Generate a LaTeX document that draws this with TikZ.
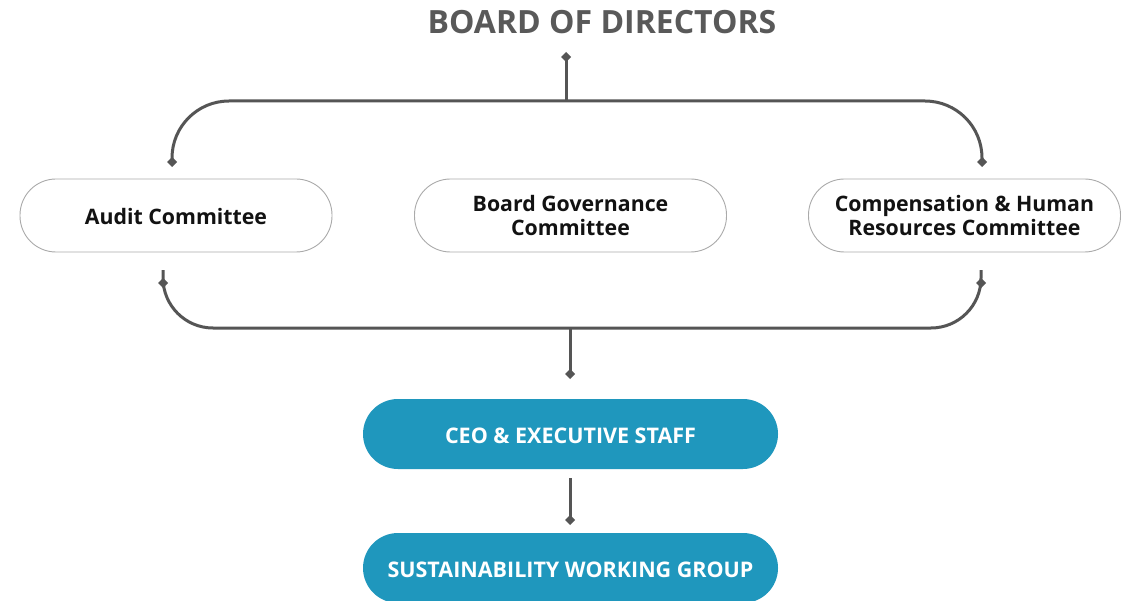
\documentclass[tikz,border=0pt]{standalone}
\usepackage{fontspec}
\setmainfont{Open Sans}
\usetikzlibrary{arrows.meta}
\definecolor{teal}{HTML}{1F97BD}
\definecolor{linegray}{HTML}{555555}
\definecolor{titlegray}{HTML}{595959}
\definecolor{boxborder}{HTML}{AAAAAA}
\newcommand{\twoline}[2]{\begin{tabular}[t]{@{}c@{}}#1\\#2\end{tabular}}
\tikzset{
  committee/.style={draw=boxborder, line width=0.9pt, fill=white, rounded corners=36pt,
    minimum width=312pt, minimum height=73pt, text=black!93,
    font=\fontsize{21.3}{24}\selectfont\bfseries, inner sep=0pt,
    text height=19pt, text depth=0pt},
  twolines/.style={text depth=26pt},
  execbox/.style={fill=teal, rounded corners=35pt, minimum width=415pt, minimum height=70pt,
    text=white, font=\fontsize{21.5}{24}\selectfont\bfseries, inner sep=0pt,
    text height=18.5pt, text depth=0pt},
  conn/.style={draw=linegray, line width=3pt, -{Turned Square[length=10pt,width=10pt]}},
  bothtips/.style={{Turned Square[length=10pt,width=10pt]}-{Turned Square[length=10pt,width=10pt]}},
  titlestyle/.style={text=titlegray, font=\fontsize{32}{36}\selectfont\bfseries, inner sep=0pt},
}
\begin{document}
\begin{tikzpicture}[x=1pt, y=-1pt]
\useasboundingbox (0,0) rectangle (1131,601);
\fill[white] (0,0) rectangle (1131,601);
% title
\node[titlestyle] (board) at (602,22) {BOARD OF DIRECTORS};
% committees
\node[committee] (audit) at (176,215.5) {Audit Committee};
\node[committee, twolines] (gov) at (570.5,215.5) {\twoline{Board Governance}{Committee}};
\node[committee, twolines] (comp) at (964.5,215.5) {\twoline{Compensation \& Human}{Resources Committee}};
% executive boxes
\node[execbox] (ceo) at (570.5,434) {CEO \& EXECUTIVE STAFF};
\node[execbox] (swg) at (570.5,568) {SUSTAINABILITY WORKING GROUP};
% coordinates of connector ends
\coordinate (topjoin) at (566,101);
\coordinate (boardtip) at (566,52);
\coordinate (audittop) at (172,157);
\coordinate (comptop) at (982,157);
\coordinate (auditbot) at (163,278);
\coordinate (compbot) at (981,278);
\coordinate (botjoin) at (570,328);
\coordinate (ceotip) at (570,379);
\coordinate (ceobot) at (570,478);
\coordinate (swgtip) at (570,525);
% top bracket
\draw[conn] (topjoin) -- (boardtip);
\draw[conn, bothtips, rounded corners=57pt]
  (audittop) |- (topjoin) -| (comptop);
% bottom bracket
\draw[conn, bothtips, rounded corners=50pt]
  (auditbot) |- (botjoin) -| (compbot);
\draw[conn] (botjoin) -- (ceotip);
\draw[conn] (ceobot) -- (swgtip);
\end{tikzpicture}
\end{document}
